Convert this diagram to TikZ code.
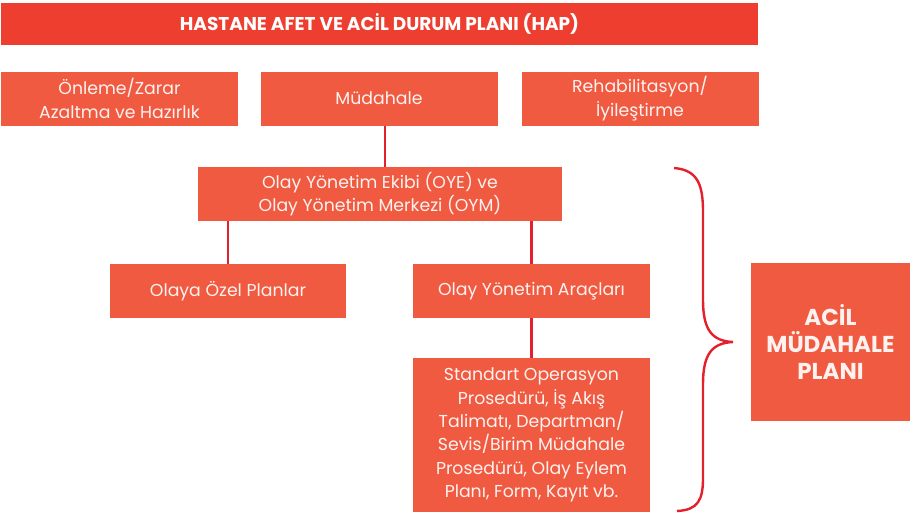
\documentclass[tikz,border=0pt]{standalone}
\usepackage{fontspec}
\setmainfont{Poppins}
\usetikzlibrary{positioning}
\definecolor{hapred}{HTML}{EE3E2F}
\definecolor{boxred}{HTML}{F05A40}
\definecolor{linered}{HTML}{E3202B}
\begin{document}
\begin{tikzpicture}[x=1pt,y=-1pt,
	kutu/.style={fill=boxred,text=white!92!boxred,inner sep=0pt,align=center,minimum width=237pt,minimum height=54pt,font=\fontsize{17.3}{23.3}\selectfont},
	bag/.style={draw=linered,line width=2.6pt}]
	\useasboundingbox (0,0) rectangle (918,512);

	\node[kutu,fill=hapred,text=white,minimum width=757pt,minimum height=42pt,font=\fontsize{18.5}{20}\selectfont\bfseries] (hap) at (379.5,24) {HASTANE AFET VE ACİL DURUM PLANI (HAP)};

	\node[kutu] (onleme) at (119.5,98.5) {Önleme/Zarar\\Azaltma ve Hazırlık};
	\node[kutu] (mud) at (379,98.5) {Müdahale};
	\node[kutu] (rehab) at (640,98.5) {Rehabilitasyon/\\İyileştirme};

	\node[kutu,minimum width=364pt] (oye) at (380,194) {Olay Yönetim Ekibi (OYE) ve\\Olay Yönetim Merkezi (OYM)};
	\node[kutu,minimum width=236pt] (olaya) at (228,291) {Olaya Özel Planlar};
	\node[kutu] (arac) at (531.5,291) {Olay Yönetim Araçları};
	\node[kutu,minimum height=154pt] (sop) at (531.5,435) {Standart Operasyon\\Prosedürü, İş Akış\\Talimatı, Departman/\\Sevis/Birim Müdahale\\Prosedürü, Olay Eylem\\Planı, Form, Kayıt vb.};

	\node[kutu,minimum width=159pt,minimum height=158pt,font=\fontsize{23}{27}\selectfont\bfseries] (acil) at (830.5,342) {ACİL\\MÜDAHALE\\PLANI};

	\draw[bag] ([xshift=6pt]mud.south) -- ([xshift=5pt]oye.north);
	\draw[bag] (oye.south -| olaya.north) -- (olaya.north);
	\draw[bag] (oye.south -| arac.north) -- (arac.north);
	\draw[bag] (arac.south) -- (sop.north);

	% kume parantezi
	\draw[bag,line width=2.4pt] (674,168) .. controls (698,170) and (703,185) .. (703,212) -- (703,300)
		.. controls (703,330) and (712,341) .. (733,342)
		.. controls (712,343) and (703,354) .. (703,384) -- (703,478)
		.. controls (703,500) and (698,510) .. (677,511);
\end{tikzpicture}
\end{document}
